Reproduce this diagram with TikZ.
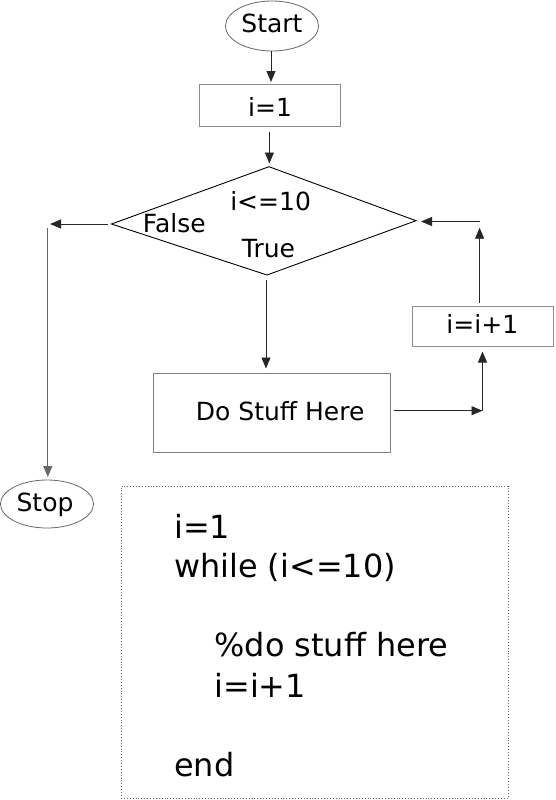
\documentclass[tikz,border=0pt]{standalone}
\usepackage{fontspec}
\setmainfont{DejaVu Sans}
\usetikzlibrary{arrows.meta,shapes.geometric}
\begin{document}
\begin{tikzpicture}[x=1pt,y=-1pt,
  lbl/.style={inner sep=0pt,anchor=base,font=\fontsize{25}{29}\selectfont},
  codeline/.style={inner sep=0pt,anchor=base west,font=\fontsize{31.9}{38}\selectfont},
  term/.style={draw=black!60,line width=0.8pt,ellipse,inner sep=0pt},
  procbox/.style={draw=black!45,line width=1pt,inner sep=0pt},
  flow/.style={line width=0.9pt,draw=black!85,-{Triangle[length=11pt,width=9pt]}},
  plainline/.style={line width=1pt,draw=black!55}]
\useasboundingbox (0,0) rectangle (555,800);
% shapes
\node[term,minimum width=93pt,minimum height=50pt] (start) at (272,26) {};
\node[procbox,minimum width=141pt,minimum height=42pt] (i1) at (270,105.5) {};
\coordinate (dtop) at (269,166.7);
\coordinate (dleft) at (111.5,224);
\coordinate (dright) at (416,220.7);
\coordinate (dbot) at (267,275);
\draw[line width=0.9pt] (dtop) -- (dright) -- (dbot) -- (dleft) -- cycle;
\node[procbox,draw=black!50,minimum width=237pt,minimum height=79pt] (work) at (272,412.5) {};
\node[procbox,minimum width=141pt,minimum height=40pt] (inc) at (483,326.5) {};
\node[term,minimum width=93pt,minimum height=48pt] (stop) at (47,504) {};
\node[draw=black!60,dotted,line width=0.9pt,minimum width=387pt,minimum height=312pt,inner sep=0pt] (code) at (314.5,642) {};
% labels
\node[lbl] (tstart) at (272,32.3) {Start};
\node[lbl] (ti1) at (270,116) {i=1};
\node[lbl] (tcond) at (270.6,210.7) {i<=10};
\node[lbl,anchor=base west] (tfalse) at (142.7,232.3) {False};
\node[lbl] (ttrue) at (268.5,257.7) {True};
\node[lbl,anchor=base west] (twork) at (195.7,420.7) {Do Stuff Here};
\node[lbl] (tinc) at (482.3,333.3) {i=i+1};
\node[lbl] (tstop) at (45,511.7) {Stop};
% code
\node[codeline] (c1) at (174,538.3) {i=1};
\node[codeline] (c2) at (174,577.3) {while (i<=10)};
\node[codeline] (c3) at (214.3,656.7) {\%do stuff here};
\node[codeline] (c4) at (214.3,697.7) {i=i+1};
\node[codeline] (c5) at (174,776) {end};
% connectors
\coordinate (a1) at (271,82);
\draw[flow] (start.south -| a1) -- (a1);
\coordinate (a2s) at (269.4,132);
\coordinate (a2e) at (269.4,163.5);
\draw[flow] (a2s) -- (a2e);
\coordinate (fl1) at (108,224);
\coordinate (fl2) at (50,224);
\draw[flow] (fl1) -- (fl2);
\coordinate (fv1) at (47.8,228);
\coordinate (fv2) at (47.8,477);
\draw[flow,draw=black!60] (fv1) -- (fv2);
\coordinate (t1) at (266,280);
\coordinate (t2) at (266,368.5);
\draw[flow] (t1) -- (t2);
\coordinate (w1) at (393.6,410.7);
\coordinate (w2) at (482.5,410.7);
\draw[flow] (w1) -- (w2);
\coordinate (w3) at (482.5,351.5);
\draw[flow] (w2) -- (w3);
\coordinate (u1) at (479.6,302.7);
\coordinate (u2) at (479.6,227.7);
\draw[flow] (u1) -- (u2);
\coordinate (r1) at (479.6,221.5);
\coordinate (r2) at (421,221.5);
\draw[flow] (r1) -- (r2);
\end{tikzpicture}
\end{document}
